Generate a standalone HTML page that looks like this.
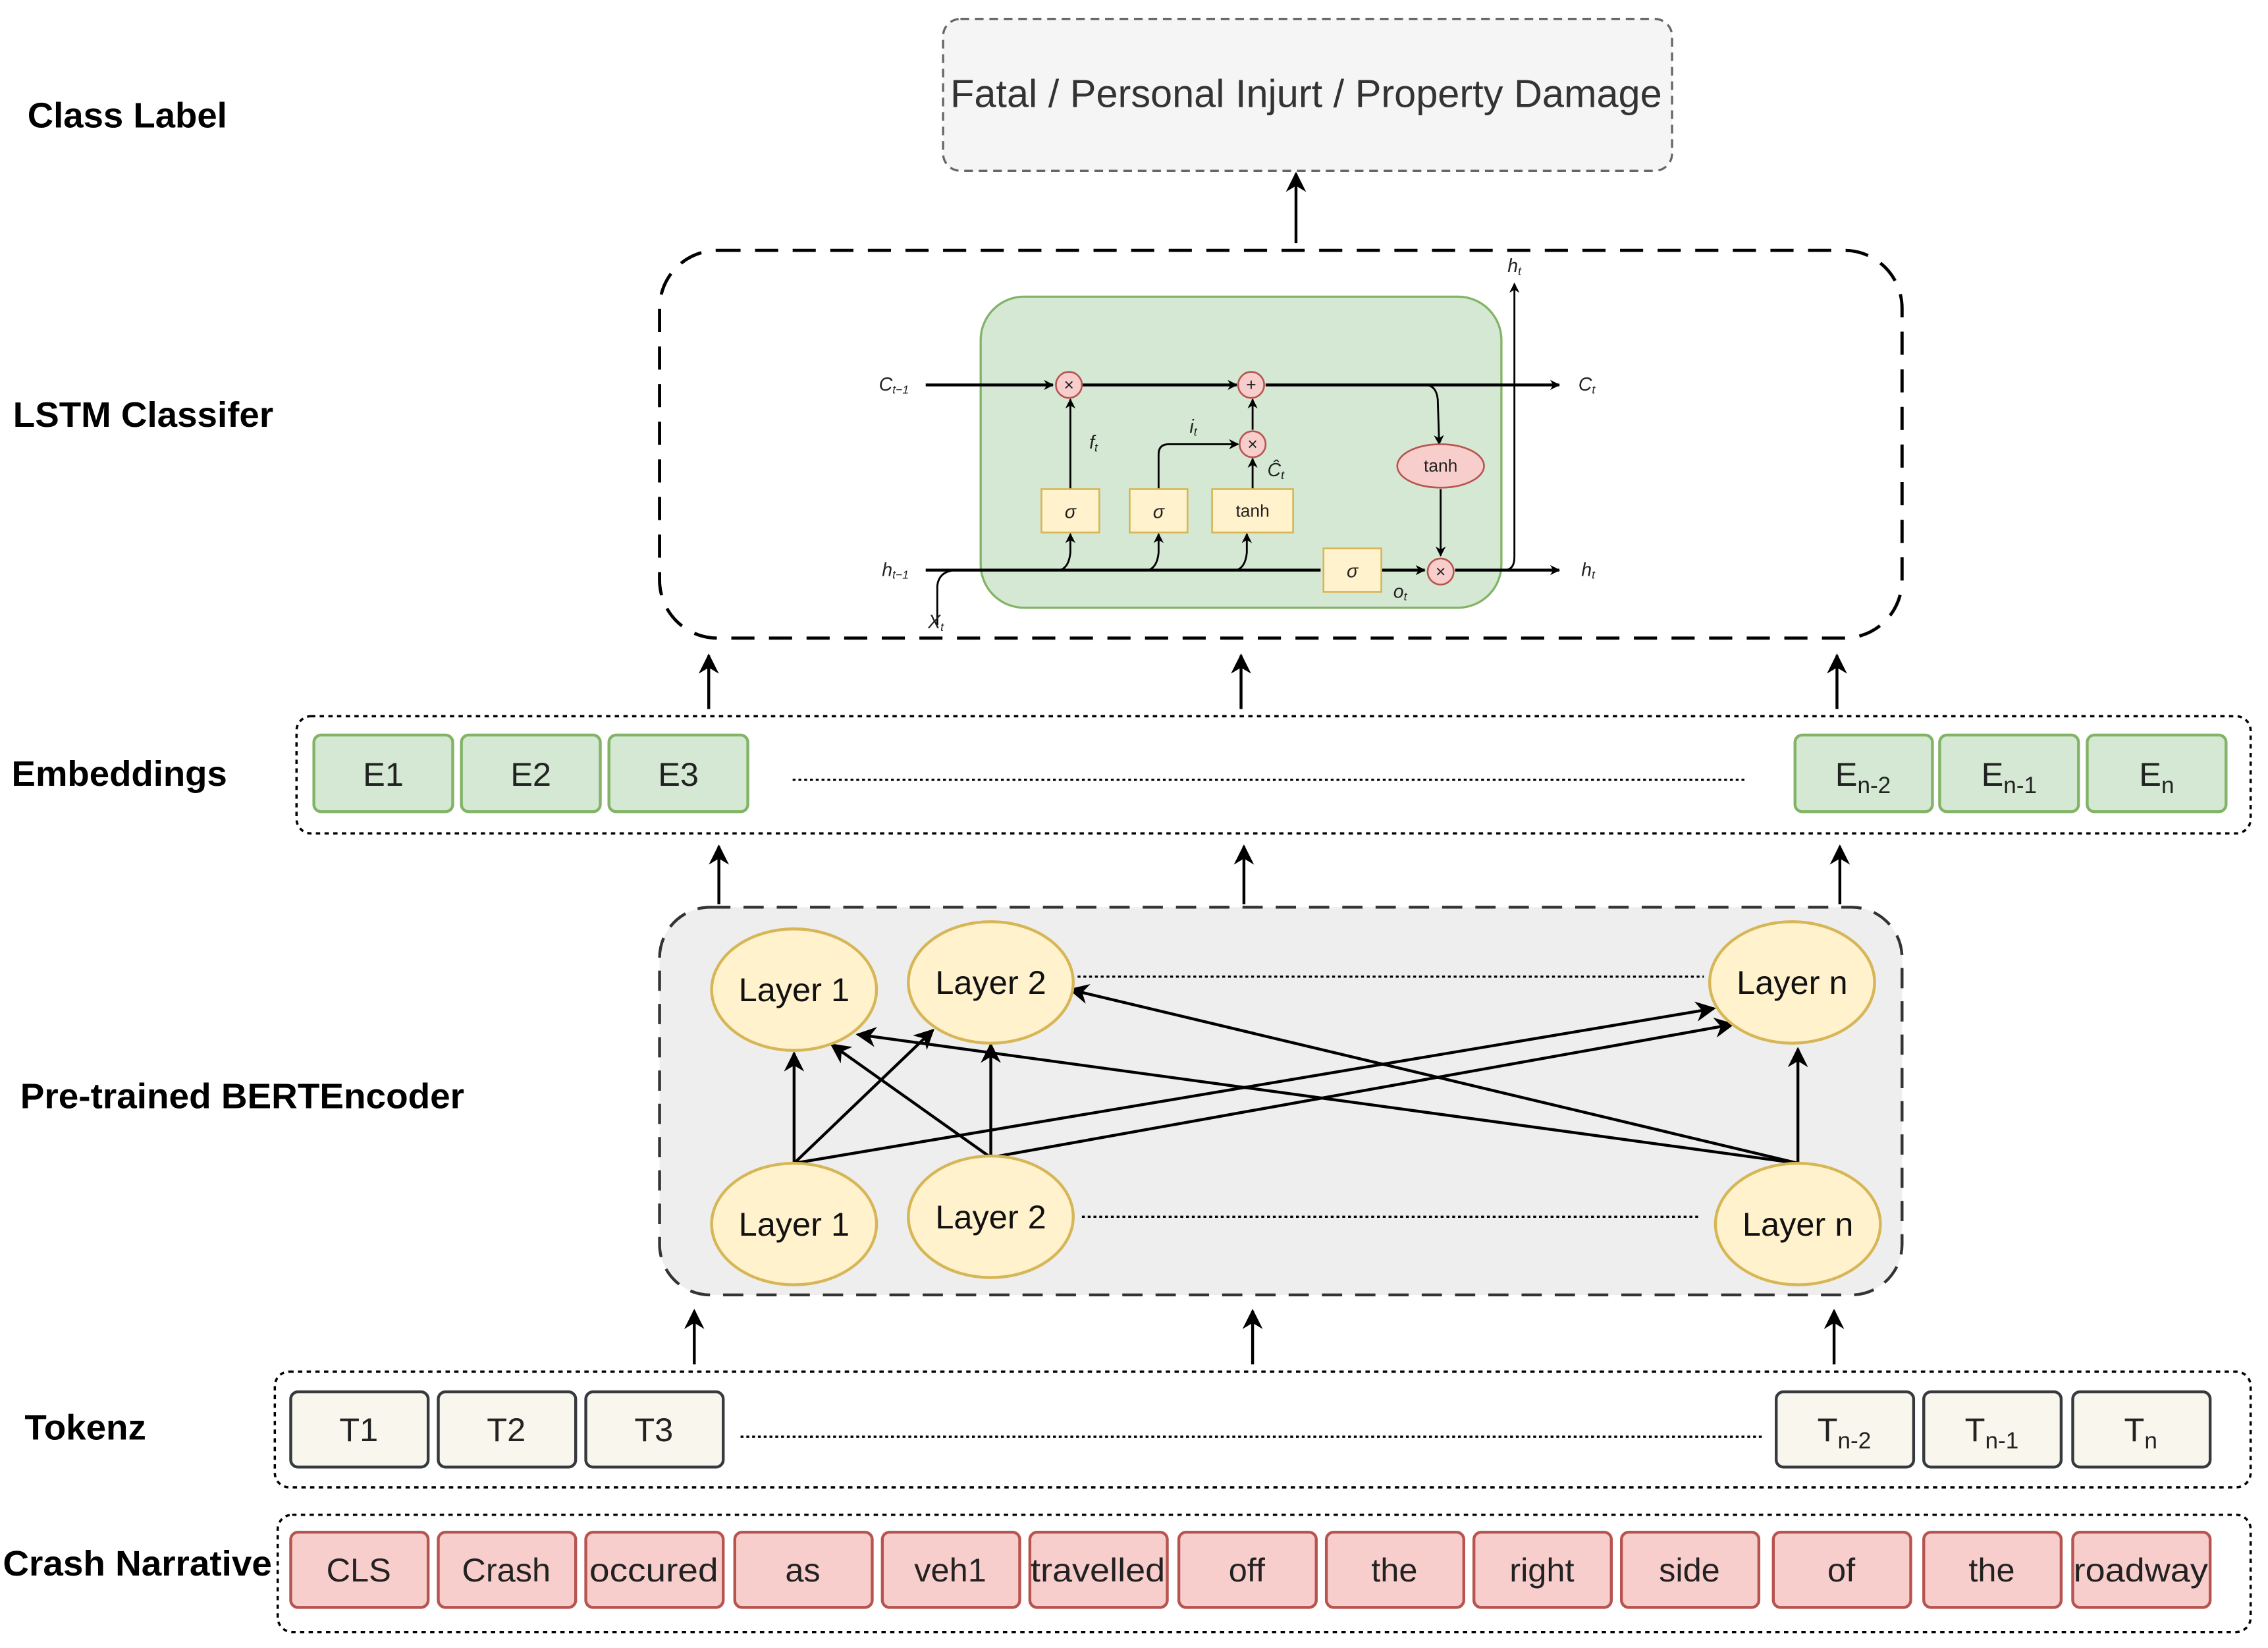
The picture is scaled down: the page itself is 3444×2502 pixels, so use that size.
<!DOCTYPE html>
<html><head><meta charset="utf-8"><style>
html,body{margin:0;padding:0;background:#fff}
svg{display:block}
text{font-family:"Liberation Sans",sans-serif}
</style></head><body>
<svg width="3444" height="2502" viewBox="0 0 1568 1139" xmlns="http://www.w3.org/2000/svg">
<defs>
<marker id="a" viewBox="0 0 10 10" refX="9" refY="5" markerWidth="7" markerHeight="7" orient="auto-start-reverse" markerUnits="userSpaceOnUse"><path d="M0,0 L10,5 L0,10 L3,5 z" fill="#000"/></marker>
<marker id="b" viewBox="0 0 10 10" refX="9" refY="5" markerWidth="14" markerHeight="14" orient="auto" markerUnits="userSpaceOnUse"><path d="M0,0 L10,5 L0,10 L3,5 z" fill="#000"/></marker>
</defs>
<rect width="1568" height="1139" fill="#fff"/>
<g font-weight="bold" font-size="24.5" fill="#000">
<text x="19" y="88" textLength="138" lengthAdjust="spacingAndGlyphs">Class Label</text>
<text x="9" y="295" textLength="180" lengthAdjust="spacingAndGlyphs">LSTM Classifer</text>
<text x="8" y="543" textLength="149" lengthAdjust="spacingAndGlyphs">Embeddings</text>
<text x="14" y="766" textLength="307" lengthAdjust="spacingAndGlyphs">Pre-trained BERTEncoder</text>
<text x="17" y="995" textLength="84" lengthAdjust="spacingAndGlyphs">Tokenz</text>
<text x="2" y="1089" textLength="186" lengthAdjust="spacingAndGlyphs">Crash Narrative</text>
</g>
<rect x="652" y="13" width="504" height="105" rx="12" fill="#f5f5f5" stroke="#666" stroke-width="1.5" stroke-dasharray="6,4"/>
<text x="903" y="74" font-size="27" fill="#333" text-anchor="middle" textLength="492" lengthAdjust="spacingAndGlyphs">Fatal / Personal Injurt / Property Damage</text>
<line x1="896" y1="168" x2="896" y2="120" stroke="#000" stroke-width="2" marker-end="url(#b)"/>
<rect x="456" y="173" width="859" height="268" rx="40" fill="#fff" stroke="#000" stroke-width="2.2" stroke-dasharray="16,10"/>
<rect x="678" y="205" width="360" height="215" rx="30" fill="#d5e8d4" stroke="#82b366" stroke-width="1.5"/>
<g stroke="#000" stroke-width="1.3" fill="none">
<line x1="640" y1="266" x2="728" y2="266" stroke-width="2" marker-end="url(#a)"/>
<line x1="748" y1="266" x2="855" y2="266" stroke-width="2" marker-end="url(#a)"/>
<line x1="875" y1="266" x2="1078" y2="266" stroke-width="2" marker-end="url(#a)"/>
<path d="M985,266 Q993,266 994,276 L995,307" marker-end="url(#a)"/>
<line x1="996" y1="338" x2="996" y2="384" marker-end="url(#a)"/>
<line x1="640" y1="394" x2="913" y2="394" stroke-width="2"/>
<line x1="955" y1="394" x2="985" y2="394" stroke-width="2" marker-end="url(#a)"/>
<line x1="1006" y1="394" x2="1078" y2="394" stroke-width="2" marker-end="url(#a)"/>
<path d="M1040,394 Q1047,394 1047,385 L1047,196" marker-end="url(#a)"/>
<path d="M648,432 L648,405 Q649,395 660,394"/>
<path d="M733,394 Q739,392 740,382 L740,369" marker-end="url(#a)"/>
<path d="M794,394 Q800,392 801,382 L801,369" marker-end="url(#a)"/>
<path d="M855,394 Q861,392 862,382 L862,369" marker-end="url(#a)"/>
<line x1="740" y1="338" x2="740" y2="276" marker-end="url(#a)"/>
<path d="M801,338 L801,314 Q801,307 808,307 L856,307" marker-end="url(#a)"/>
<line x1="866" y1="338" x2="866" y2="317" marker-end="url(#a)"/>
<line x1="866" y1="297" x2="866" y2="276" marker-end="url(#a)"/>
</g>
<g fill="#f8cecc" stroke="#b85450" stroke-width="1.2">
<circle cx="739" cy="266" r="9"/><circle cx="865" cy="266" r="9"/><circle cx="866" cy="307" r="9"/><circle cx="996" cy="395" r="9"/>
<ellipse cx="996" cy="322" rx="30" ry="15"/>
</g>
<g fill="#fff2cc" stroke="#d6b656" stroke-width="1.2">
<rect x="720" y="338" width="40" height="30"/><rect x="781" y="338" width="40" height="30"/><rect x="838" y="338" width="56" height="30"/><rect x="915" y="379" width="40" height="30"/>
</g>
<g font-size="12" fill="#222" text-anchor="middle">
<text x="739" y="270">×</text><text x="865" y="270">+</text><text x="866" y="311">×</text><text x="996" y="399">×</text>
<text x="996" y="326">tanh</text><text x="866" y="357">tanh</text>
</g>
<g font-size="13" fill="#222" font-family="Liberation Serif" font-style="italic" text-anchor="middle">
<text x="740" y="358">σ</text><text x="801" y="358">σ</text><text x="935" y="399">σ</text>
<text x="618" y="270">C<tspan font-size="8" dy="2">t−1</tspan></text>
<text x="1097" y="270">C<tspan font-size="8" dy="2">t</tspan></text>
<text x="619" y="398">h<tspan font-size="8" dy="2">t−1</tspan></text>
<text x="1098" y="398">h<tspan font-size="8" dy="2">t</tspan></text>
<text x="1047" y="188">h<tspan font-size="8" dy="2">t</tspan></text>
<text x="647" y="434">X<tspan font-size="8" dy="2">t</tspan></text>
<text x="756" y="310">f<tspan font-size="8" dy="2">t</tspan></text>
<text x="825" y="299">i<tspan font-size="8" dy="2">t</tspan></text>
<text x="882" y="329">Ĉ<tspan font-size="8" dy="2">t</tspan></text>
<text x="968" y="413">o<tspan font-size="8" dy="2">t</tspan></text>
</g>
<g stroke="#000" stroke-width="2">
<line x1="490" y1="490" x2="490" y2="453" marker-end="url(#b)"/>
<line x1="858" y1="490" x2="858" y2="453" marker-end="url(#b)"/>
<line x1="1270" y1="490" x2="1270" y2="453" marker-end="url(#b)"/>
<line x1="497" y1="625" x2="497" y2="585" marker-end="url(#b)"/>
<line x1="860" y1="625" x2="860" y2="585" marker-end="url(#b)"/>
<line x1="1272" y1="625" x2="1272" y2="585" marker-end="url(#b)"/>
<line x1="480" y1="943" x2="480" y2="906" marker-end="url(#b)"/>
<line x1="866" y1="943" x2="866" y2="906" marker-end="url(#b)"/>
<line x1="1268" y1="943" x2="1268" y2="906" marker-end="url(#b)"/>
</g>
<rect x="205" y="495" width="1351" height="81" rx="10" fill="#fff" stroke="#000" stroke-width="1.6" stroke-dasharray="3,3"/>
<line x1="548" y1="539" x2="1207" y2="539" stroke="#000" stroke-width="1.5" stroke-dasharray="2,2"/>
<g fill="#d5e8d4" stroke="#82b366" stroke-width="2">
<rect x="217" y="508" width="96" height="53" rx="5"/><rect x="319" y="508" width="96" height="53" rx="5"/><rect x="421" y="508" width="96" height="53" rx="5"/>
<rect x="1241" y="508" width="95" height="53" rx="5"/><rect x="1341" y="508" width="96" height="53" rx="5"/><rect x="1443" y="508" width="96" height="53" rx="5"/>
</g>
<g font-size="23" fill="#222" text-anchor="middle">
<text x="265" y="543">E1</text><text x="367" y="543">E2</text><text x="469" y="543">E3</text>
<text x="1288" y="543">E<tspan font-size="16" dy="5">n-2</tspan></text>
<text x="1389" y="543">E<tspan font-size="16" dy="5">n-1</tspan></text>
<text x="1491" y="543">E<tspan font-size="16" dy="5">n</tspan></text>
</g>
<rect x="456" y="627" width="859" height="268" rx="35" fill="#eeeeee" stroke="#333" stroke-width="2" stroke-dasharray="14,9"/>
<g stroke="#000" stroke-width="1.5" stroke-dasharray="2,2">
<line x1="745" y1="675" x2="1178" y2="675"/><line x1="748" y1="841" x2="1176" y2="841"/>
</g>
<g stroke="#000" stroke-width="2">
<line x1="549" y1="804" x2="549" y2="728" marker-end="url(#b)"/>
<line x1="549" y1="804" x2="645" y2="712" marker-end="url(#b)"/>
<line x1="549" y1="804" x2="1185" y2="697" marker-end="url(#b)"/>
<line x1="685" y1="800" x2="685" y2="722" marker-end="url(#b)"/>
<line x1="685" y1="800" x2="575" y2="722" marker-end="url(#b)"/>
<line x1="685" y1="800" x2="1198" y2="708" marker-end="url(#b)"/>
<line x1="1243" y1="804" x2="1243" y2="725" marker-end="url(#b)"/>
<line x1="1243" y1="804" x2="593" y2="715" marker-end="url(#b)"/>
<line x1="1243" y1="804" x2="740" y2="684" marker-end="url(#b)"/>
</g>
<g fill="#fff2cc" stroke="#d6b656" stroke-width="2">
<ellipse cx="549" cy="684" rx="57" ry="42"/><ellipse cx="685" cy="679" rx="57" ry="42"/><ellipse cx="1239" cy="679" rx="57" ry="42"/>
<ellipse cx="549" cy="846" rx="57" ry="42"/><ellipse cx="685" cy="841" rx="57" ry="42"/><ellipse cx="1243" cy="846" rx="57" ry="42"/>
</g>
<g font-size="23" fill="#111" text-anchor="middle">
<text x="549" y="692">Layer 1</text><text x="685" y="687">Layer 2</text><text x="1239" y="687">Layer n</text>
<text x="549" y="854">Layer 1</text><text x="685" y="849">Layer 2</text><text x="1243" y="854">Layer n</text>
</g>
<rect x="190" y="948" width="1366" height="80" rx="10" fill="#fff" stroke="#000" stroke-width="1.6" stroke-dasharray="3,3"/>
<line x1="512" y1="993" x2="1218" y2="993" stroke="#000" stroke-width="1.5" stroke-dasharray="2,2"/>
<g fill="#f9f7ed" stroke="#36393d" stroke-width="2">
<rect x="201" y="962" width="95" height="52" rx="5"/><rect x="303" y="962" width="95" height="52" rx="5"/><rect x="405" y="962" width="95" height="52" rx="5"/>
<rect x="1228" y="962" width="95" height="52" rx="5"/><rect x="1330" y="962" width="95" height="52" rx="5"/><rect x="1433" y="962" width="95" height="52" rx="5"/>
</g>
<g font-size="23" fill="#222" text-anchor="middle">
<text x="248" y="996">T1</text><text x="350" y="996">T2</text><text x="452" y="996">T3</text>
<text x="1275" y="996">T<tspan font-size="16" dy="5">n-2</tspan></text>
<text x="1377" y="996">T<tspan font-size="16" dy="5">n-1</tspan></text>
<text x="1480" y="996">T<tspan font-size="16" dy="5">n</tspan></text>
</g>
<rect x="192" y="1047" width="1364" height="81" rx="10" fill="#fff" stroke="#000" stroke-width="1.6" stroke-dasharray="3,3"/>
<g fill="#f8cecc" stroke="#b85450" stroke-width="2">
<rect x="201" y="1059" width="95" height="52" rx="5"/><rect x="303" y="1059" width="95" height="52" rx="5"/><rect x="405" y="1059" width="95" height="52" rx="5"/><rect x="508" y="1059" width="95" height="52" rx="5"/><rect x="610" y="1059" width="95" height="52" rx="5"/><rect x="712" y="1059" width="95" height="52" rx="5"/><rect x="815" y="1059" width="95" height="52" rx="5"/><rect x="917" y="1059" width="95" height="52" rx="5"/><rect x="1019" y="1059" width="95" height="52" rx="5"/><rect x="1121" y="1059" width="95" height="52" rx="5"/><rect x="1226" y="1059" width="95" height="52" rx="5"/><rect x="1330" y="1059" width="95" height="52" rx="5"/><rect x="1433" y="1059" width="95" height="52" rx="5"/>
</g>
<g font-size="23" fill="#222" text-anchor="middle">
<text x="248" y="1093">CLS</text><text x="350" y="1093">Crash</text><text x="452" y="1093" textLength="89" lengthAdjust="spacingAndGlyphs">occured</text><text x="555" y="1093">as</text><text x="657" y="1093">veh1</text><text x="759" y="1093" textLength="93" lengthAdjust="spacingAndGlyphs">travelled</text><text x="862" y="1093">off</text><text x="964" y="1093">the</text><text x="1066" y="1093">right</text><text x="1168" y="1093">side</text><text x="1273" y="1093">of</text><text x="1377" y="1093">the</text><text x="1480" y="1093" textLength="93" lengthAdjust="spacingAndGlyphs">roadway</text>
</g>
</svg>
</body></html>
